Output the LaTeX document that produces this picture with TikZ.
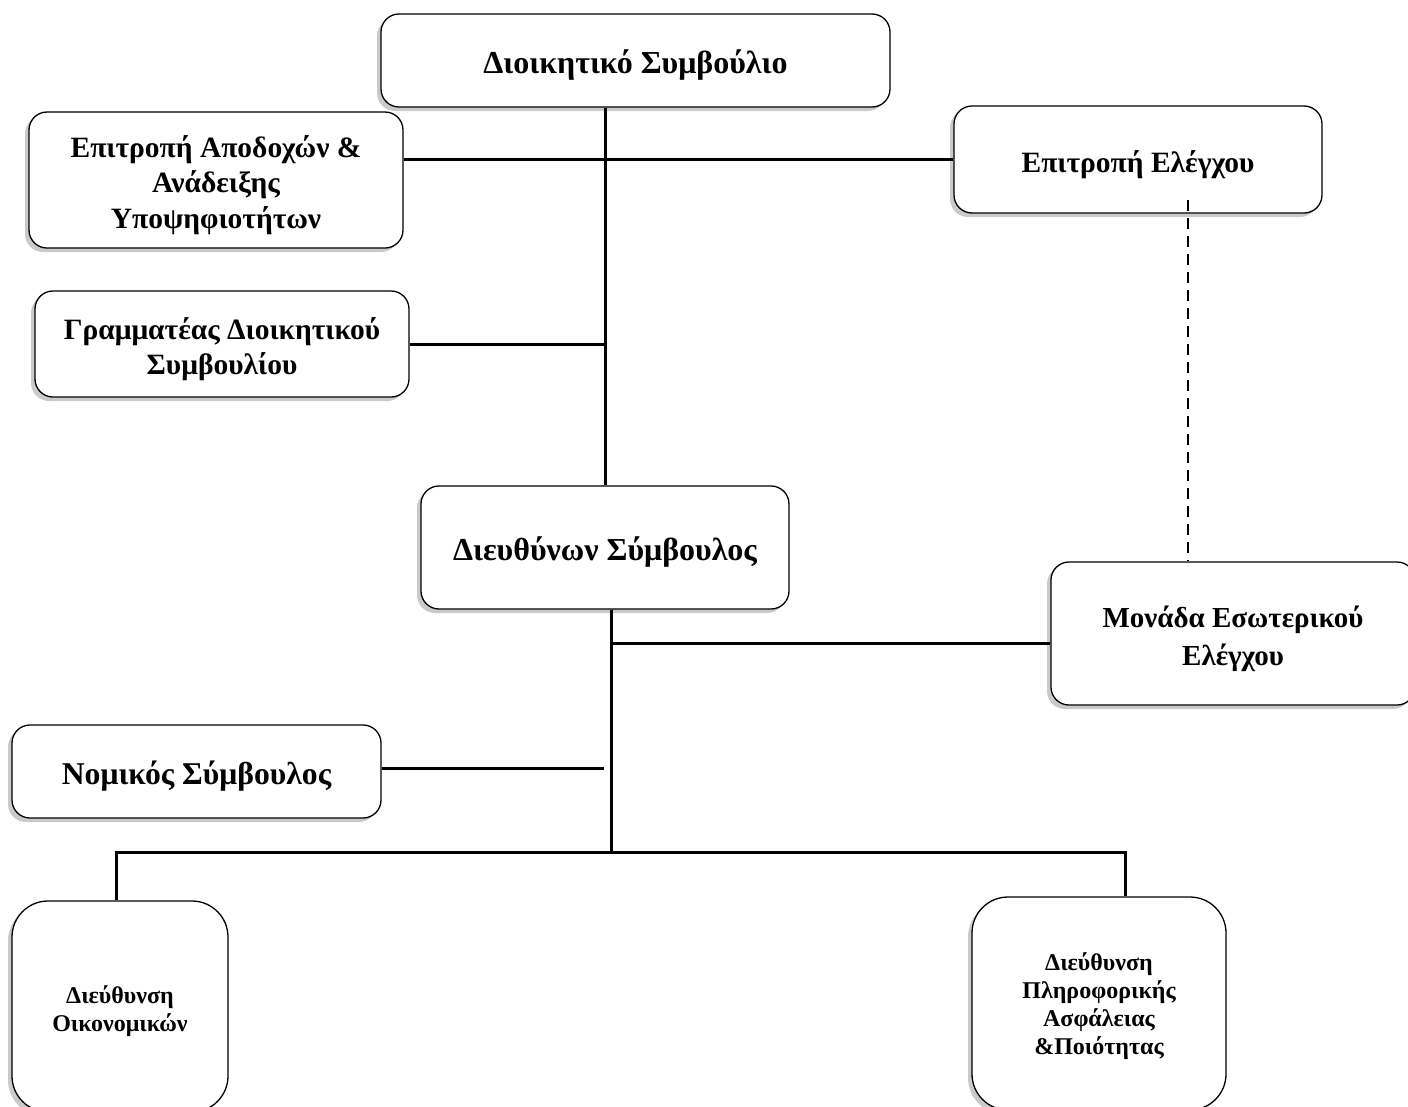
\documentclass[tikz,border=0pt]{standalone}
\usepackage{fontspec}
\setmainfont{Liberation Serif}
\usetikzlibrary{shadows}
\tikzset{
  box/.style={draw=black, line width=1.3pt, fill=white, rounded corners=18pt,
    inner sep=0pt,
    drop shadow={shadow xshift=-4pt, shadow yshift=-4pt, opacity=0.35, fill=black!60}},
  bigbox/.style={box, rounded corners=36pt},
  lbl/.style={align=center, inner sep=0pt, yshift=-5pt, font=\bfseries\fontsize{29.5}{35.5}\selectfont},
  lblbig/.style={lbl, font=\bfseries\fontsize{32}{36}\selectfont},
  lblmon/.style={lbl, font=\bfseries\fontsize{29}{38}\selectfont},
  lblsmall/.style={lbl, font=\bfseries\fontsize{24}{28}\selectfont},
  conn/.style={draw=black, line width=3pt},
  dconn/.style={draw=black, line width=2.6pt, dash pattern=on 11pt off 7pt},
}
\begin{document}
\begin{tikzpicture}[x=1pt,y=-1pt]
\useasboundingbox (0,0) rectangle (1408,1106);
% boxes
\node[box, minimum width=509pt, minimum height=93pt,
  label={[lblbig]center:Διοικητικό Συμβούλιο}] (dsb) at (635.5,60.5) {};
\node[box, minimum width=374pt, minimum height=136pt,
  label={[lbl]center:{Επιτροπή Αποδοχών \&\\Ανάδειξης\\Υποψηφιοτήτων}}] (apo) at (216,180) {};
\node[box, minimum width=368pt, minimum height=107pt,
  label={[lbl]center:Επιτροπή Ελέγχου}] (elen) at (1138,159.5) {};
\node[box, minimum width=374pt, minimum height=106pt,
  label={[lbl]center:{Γραμματέας Διοικητικού\\Συμβουλίου}}] (gram) at (222,344) {};
\node[box, minimum width=368pt, minimum height=123pt,
  label={[lblbig]center:Διευθύνων Σύμβουλος}] (ceo) at (605,547.5) {};
\node[box, minimum width=364pt, minimum height=143pt,
  label={[lblmon]center:{Μονάδα Εσωτερικού\\Ελέγχου}}] (mon) at (1233,633.5) {};
\node[box, minimum width=369pt, minimum height=93pt,
  label={[lblbig, font=\bfseries\fontsize{31.7}{36}\selectfont]center:Νομικός Σύμβουλος}] (nom) at (196.5,771.5) {};
\node[bigbox, minimum width=216pt, minimum height=211pt,
  label={[lblsmall]center:{Διεύθυνση\\Οικονομικών}}] (oik) at (120,1006.5) {};
\node[bigbox, minimum width=254pt, minimum height=213pt,
  label={[lblsmall, yshift=2pt]center:{Διεύθυνση\\Πληροφορικής\\Ασφάλειας\\\&Ποιότητας}}] (pli) at (1099,1003.5) {};
% junction coordinates
\coordinate (j1) at (611,852);
\coordinate (j2) at (611,643);
\coordinate (j3) at (604,768);
\coordinate (bl) at (116,852);
\coordinate (br) at (1125,852);
\coordinate (d1) at (1188,200);
% connectors
\draw[conn] (ceo.north |- dsb.south) -- (ceo.north);
\draw[conn] (apo.east |- elen.west) -- (elen.west);
\draw[conn] (gram.east) -- (gram.east -| ceo.north);
\draw[conn] (ceo.south -| j1) -- (j1);
\draw[conn] (j2) -- (j2 -| mon.west);
\draw[conn] (j3 -| nom.east) -- (j3);
\draw[conn] (bl |- oik.north) -- (bl) -- (br) -- (br |- pli.north);
\draw[dconn] (d1) -- (d1 |- mon.north);
\end{tikzpicture}
\end{document}
